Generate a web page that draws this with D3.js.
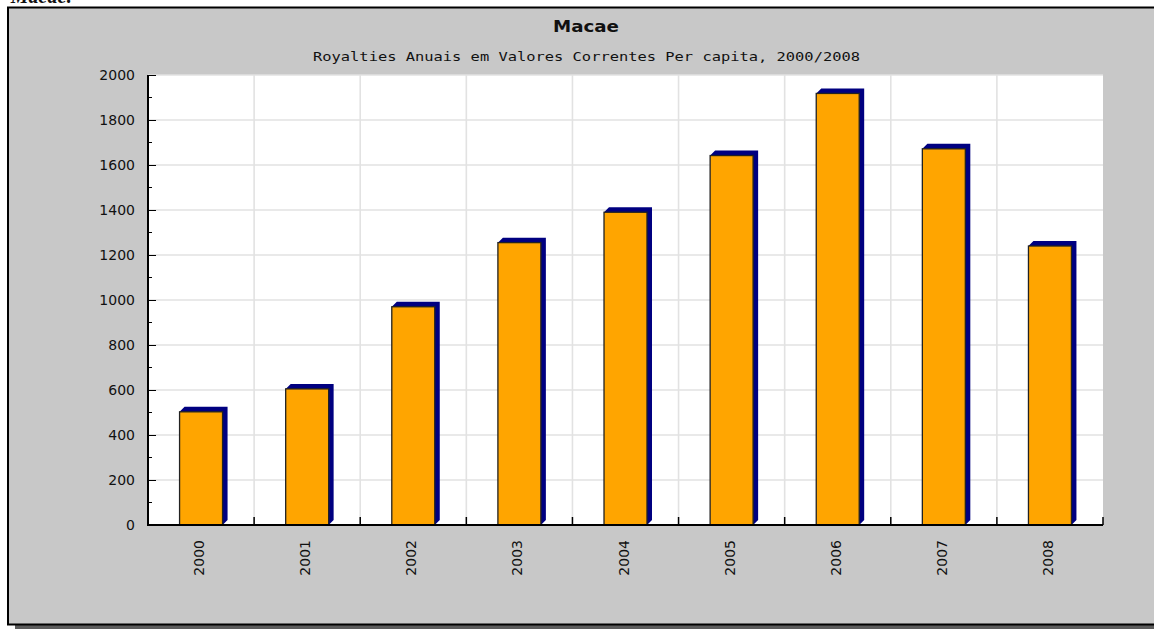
<!DOCTYPE html>
<html lang="en">
<head>
    <meta charset="UTF-8">
    <title>Macae</title>
    <script src="https://d3js.org/d3.v7.min.js"></script>
    <style>
        body{margin: 0; background: #fff; overflow: hidden;}
        text{font-family: "DejaVu Sans", sans-serif; fill: #111;}
    </style>
</head>
<body>
    <div id="plot"></div>

    <script>
        function translate(x, y){
            return 'translate(' + x + ', ' + y + ')';
        }

        // valores
        let years = ['2000', '2001', '2002', '2003', '2004', '2005', '2006', '2007', '2008'];
        let royalties = [503, 605, 970, 1255, 1390, 1642, 1918, 1672, 1240];
        let yTicks = [0, 200, 400, 600, 800, 1000, 1200, 1400, 1600, 1800, 2000];
        let yMinorTicks = [100, 300, 500, 700, 900, 1100, 1300, 1500, 1700, 1900];
        let title = 'Macae';
        let subtitle = 'Royalties Anuais em Valores Correntes Per capita, 2000/2008';

        let svgWidth = 1154;
        let svgHeight = 630;
        let plot = {left: 148, right: 1103, top: 75, bottom: 525};
        let depth = 5;

        let svg = d3.select('#plot')
                    .append('svg')
                        .attr('width', svgWidth)
                        .attr('height', svgHeight);

        // texto cortado no topo da pagina (como na imagem original)
        svg.append('text')
            .attr('x', 73).attr('y', 3)
            .attr('text-anchor', 'end')
            .style('font-family', '"Liberation Serif", serif')
            .style('font-weight', 'bold')
            .style('font-style', 'italic')
            .style('font-size', '20px')
            .text('Macae:');

        // caixa com sombra
        svg.append('rect')
            .attr('x', 15).attr('y', 11)
            .attr('width', 1200).attr('height', 618)
            .attr('fill', '#5c5c5c');
        svg.append('rect')
            .attr('x', 8).attr('y', 7.5)
            .attr('width', 1200).attr('height', 617)
            .attr('fill', '#c8c8c8')
            .attr('stroke', '#000')
            .attr('stroke-width', 2);

        svg.append('text')
            .attr('x', 586).attr('y', 32)
            .attr('text-anchor', 'middle')
            .style('font-weight', 'bold')
            .style('font-size', '16px')
            .attr('textLength', 66)
            .attr('lengthAdjust', 'spacingAndGlyphs')
            .text(title);

        svg.append('text')
            .attr('x', 586.5).attr('y', 61)
            .attr('text-anchor', 'middle')
            .style('font-family', '"DejaVu Sans Mono", monospace')
            .style('font-size', '13px')
            .attr('textLength', 547)
            .attr('lengthAdjust', 'spacingAndGlyphs')
            .text(subtitle);

        let x = d3.scaleBand()
                    .domain(years)
                    .range([plot.left, plot.right])
                    .padding(0);
        let y = d3.scaleLinear()
                    .domain([0, 2000])
                    .range([plot.bottom, plot.top]);

        svg.append('rect')
            .attr('x', plot.left).attr('y', plot.top)
            .attr('width', plot.right - plot.left)
            .attr('height', plot.bottom - plot.top)
            .attr('fill', '#fff');

        // grade
        svg.append('g')
            .selectAll('line')
            .data(yTicks.slice(1))
            .join('line')
                .attr('x1', plot.left).attr('x2', plot.right)
                .attr('y1', d => y(d)).attr('y2', d => y(d))
                .attr('stroke', '#e2e2e2')
                .attr('stroke-width', 1.6);

        let bounds = years.slice(1).map(d => x(d));
        svg.append('g')
            .selectAll('line')
            .data(bounds)
            .join('line')
                .attr('x1', d => d).attr('x2', d => d)
                .attr('y1', plot.top).attr('y2', plot.bottom)
                .attr('stroke', '#e2e2e2')
                .attr('stroke-width', 1.6);

        // barras 3d
        let barW = x.bandwidth() * 0.405;
        let bars = svg.append('g')
                    .selectAll('g')
                    .data(years.map((d, i) => ({year: d, value: royalties[i]})))
                    .join('g');

        bars.append('path')
            .attr('fill', '#000080')
            .attr('d', function(d){
                let x0 = x(d.year) + x.bandwidth() / 2 - barW / 2;
                let x1 = x0 + barW;
                let yt = y(d.value);
                let y0 = y(0);
                return 'M' + x0 + ',' + yt + 'L' + (x0 + depth) + ',' + (yt - depth)
                    + 'L' + (x1 + depth) + ',' + (yt - depth)
                    + 'L' + (x1 + depth) + ',' + (y0 - depth)
                    + 'L' + x1 + ',' + y0 + 'Z';
            });

        bars.append('rect')
            .attr('x', d => x(d.year) + x.bandwidth() / 2 - barW / 2)
            .attr('y', d => y(d.value))
            .attr('width', barW)
            .attr('height', d => y(0) - y(d.value))
            .attr('fill', '#ffa500')
            .attr('stroke', '#222')
            .attr('stroke-width', 1.3);

        // eixo y
        let yAxis = d3.axisRight(y)
                        .tickValues(yTicks)
                        .tickSize(8)
                        .tickFormat('');
        let gy = svg.append('g')
            .attr('transform', translate(plot.left, 0))
            .call(yAxis);
        gy.select('.domain').remove();

        svg.append('g')
            .selectAll('line')
            .data(yMinorTicks)
            .join('line')
                .attr('x1', plot.left).attr('x2', plot.left + 4)
                .attr('y1', d => y(d)).attr('y2', d => y(d))
                .attr('stroke', '#000');

        svg.append('g')
            .selectAll('text')
            .data(yTicks)
            .join('text')
                .attr('x', 135)
                .attr('y', d => y(d))
                .attr('dy', '0.36em')
                .attr('text-anchor', 'end')
                .style('font-size', '14px')
                .text(d => d);

        svg.append('line')
            .attr('x1', plot.left).attr('x2', plot.left)
            .attr('y1', plot.top).attr('y2', plot.bottom + 1)
            .attr('stroke', '#000').attr('stroke-width', 2);

        // eixo x
        svg.append('line')
            .attr('x1', plot.left - 1).attr('x2', plot.right)
            .attr('y1', plot.bottom).attr('y2', plot.bottom)
            .attr('stroke', '#000').attr('stroke-width', 2);

        svg.append('g')
            .selectAll('line')
            .data(bounds.concat([plot.right]))
            .join('line')
                .attr('x1', d => d).attr('x2', d => d)
                .attr('y1', plot.bottom).attr('y2', plot.bottom - 8)
                .attr('stroke', '#000').attr('stroke-width', 1.5);

        svg.append('g')
            .selectAll('text')
            .data(years)
            .join('text')
                .attr('transform', d => translate(x(d) + x.bandwidth() / 2 - 2, 540) + ' rotate(-90)')
                .attr('dy', '0.36em')
                .attr('text-anchor', 'end')
                .style('font-size', '14px')
                .text(d => d);
    </script>
</body>
</html>
